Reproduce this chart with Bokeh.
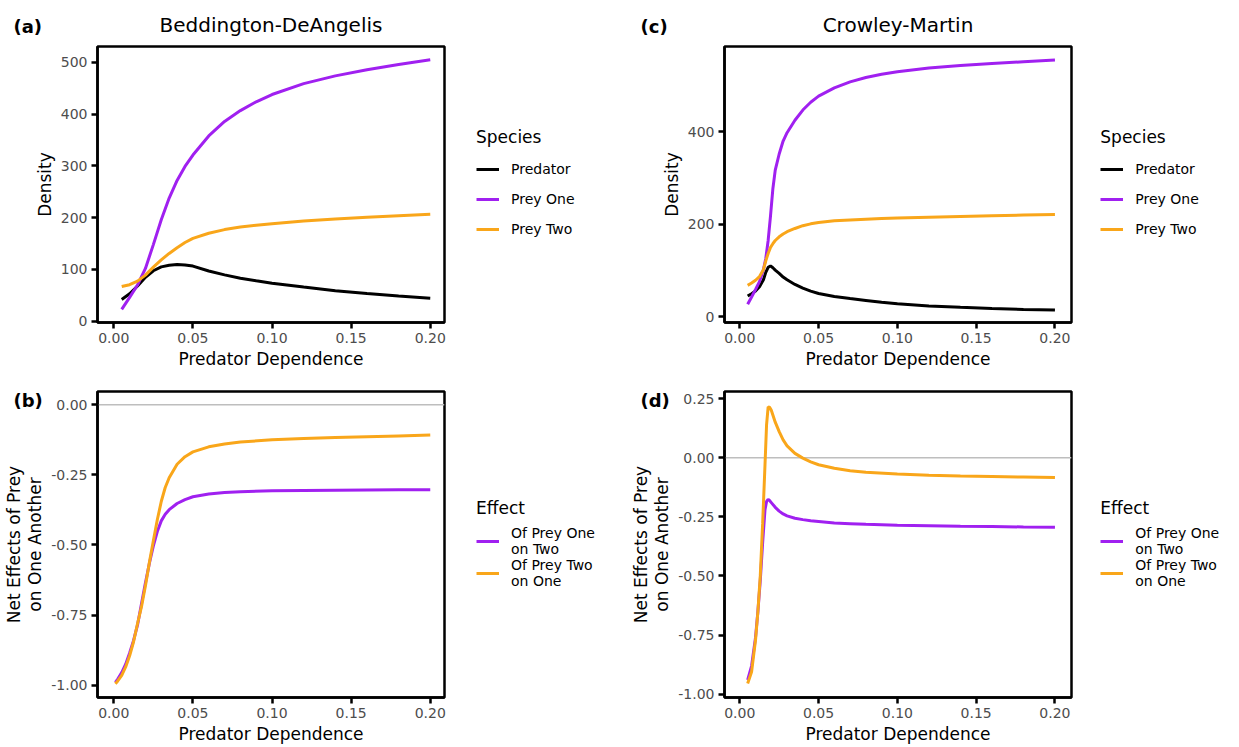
from bokeh.plotting import figure
from bokeh.models import Legend, LegendItem, Title, Span, FixedTicker, Range1d
from bokeh.layouts import column, row
from bokeh.embed import file_html
from bokeh.resources import INLINE

FONT = "DejaVu Sans"
PURPLE = "#A020F0"
ORANGE = "#F9A61A"
BLACK = "#000000"
TICK_GREY = "#4D4D4D"

# ---------------- data ----------------
# (a) Beddington-DeAngelis densities
bd_x = [0.005, 0.01, 0.015, 0.02, 0.025, 0.03, 0.035, 0.04, 0.045, 0.05,
        0.06, 0.07, 0.08, 0.09, 0.10, 0.12, 0.14, 0.16, 0.18, 0.20]
bd_predator = [42, 53, 68, 85, 97.5, 105, 108, 109.5, 108.8, 106.5,
               97, 89.5, 83, 78, 73.5, 66, 59, 53.5, 48.5, 44.5]
bd_prey_one = [23, 46, 70, 102, 148, 196, 238, 272, 299, 321,
               358, 386, 407, 424, 438, 459, 474, 486, 496, 505]
bd_prey_two = [67, 70.5, 77.5, 89, 104.5, 118.5, 131, 142, 152, 160,
               170, 177, 182, 185.5, 188.5, 193.5, 197.5, 201, 204, 206.5]

# (b) Beddington-DeAngelis net effects
bde_x = [0.001, 0.0025, 0.005, 0.0075, 0.01, 0.0125, 0.015, 0.0175, 0.02, 0.0225,
         0.025, 0.0275, 0.03, 0.0325, 0.035, 0.04, 0.045, 0.05, 0.06, 0.07,
         0.08, 0.10, 0.12, 0.14, 0.16, 0.18, 0.20]
bde_one_on_two = [-0.99, -0.978, -0.955, -0.925, -0.885, -0.84, -0.785, -0.71, -0.635, -0.565,
                  -0.503, -0.452, -0.414, -0.39, -0.374, -0.352, -0.338, -0.328, -0.318, -0.313,
                  -0.310, -0.307, -0.306, -0.305, -0.304, -0.303, -0.303]
bde_two_on_one = [-0.995, -0.985, -0.965, -0.935, -0.895, -0.845, -0.78, -0.72, -0.645, -0.562,
                  -0.485, -0.41, -0.345, -0.295, -0.26, -0.212, -0.185, -0.168, -0.150, -0.140,
                  -0.133, -0.125, -0.120, -0.117, -0.114, -0.111, -0.108]

# (c) Crowley-Martin densities
cm_x = [0.005, 0.0075, 0.01, 0.0125, 0.015, 0.0165, 0.018, 0.0195, 0.021, 0.0225,
        0.025, 0.0275, 0.03, 0.035, 0.04, 0.045, 0.05, 0.06, 0.07, 0.08,
        0.09, 0.10, 0.12, 0.14, 0.16, 0.18, 0.20]
cm_predator = [45, 50, 56, 65, 80, 96, 107, 110, 106, 101,
               94, 86, 80, 70, 62, 55.5, 50.5, 44, 39.5, 35.5,
               31.5, 28, 23.5, 20.5, 18, 16, 14.5]
cm_prey_one = [27, 43, 59, 76, 102, 126, 165, 218, 277, 317,
               352, 380, 398, 425, 447, 464, 477, 495, 508, 517.5,
               524.5, 530, 538, 543.5, 547.5, 551.5, 555]
cm_prey_two = [68, 73, 79, 87, 102, 121, 137, 150, 158, 165,
               173, 179, 184, 191, 197, 201, 204, 207.5, 209.5, 211,
               212.5, 213.5, 215.5, 217, 218.5, 220, 221]

# (d) Crowley-Martin net effects
cme_x = [0.005, 0.0075, 0.01, 0.0115, 0.013, 0.0145, 0.016, 0.017, 0.018, 0.019,
         0.02, 0.0225, 0.025, 0.0275, 0.03, 0.035, 0.04, 0.045, 0.05, 0.06,
         0.07, 0.08, 0.10, 0.12, 0.14, 0.16, 0.18, 0.20]
cme_one_on_two = [-0.94, -0.88, -0.76, -0.65, -0.52, -0.36, -0.22, -0.185, -0.176, -0.182,
                  -0.19, -0.21, -0.226, -0.238, -0.246, -0.256, -0.262, -0.267, -0.270, -0.276,
                  -0.279, -0.282, -0.286, -0.288, -0.290, -0.291, -0.293, -0.294]
cme_two_on_one = [-0.955, -0.905, -0.77, -0.65, -0.50, -0.28, -0.03, 0.14, 0.215, 0.212,
                  0.20, 0.15, 0.11, 0.075, 0.05, 0.018, -0.002, -0.018, -0.03, -0.045,
                  -0.055, -0.062, -0.069, -0.074, -0.078, -0.080, -0.082, -0.084]

# ticks
x_ticks = [0.0, 0.05, 0.1, 0.15, 0.2]
x_tick_labels = ["0.00", "0.05", "0.10", "0.15", "0.20"]
bd_y_ticks = [0, 100, 200, 300, 400, 500]
bd_y_tick_labels = ["0", "100", "200", "300", "400", "500"]
cm_y_ticks = [0, 200, 400]
cm_y_tick_labels = ["0", "200", "400"]
bde_y_ticks = [0.0, -0.25, -0.5, -0.75, -1.0]
bde_y_tick_labels = ["0.00", "-0.25", "-0.50", "-0.75", "-1.00"]
cme_y_ticks = [0.25, 0.0, -0.25, -0.5, -0.75, -1.0]
cme_y_tick_labels = ["0.25", "0.00", "-0.25", "-0.50", "-0.75", "-1.00"]

species_labels = ["Predator", "Prey One", "Prey Two"]
effect_labels = ["Of Prey One\non Two", "Of Prey Two\non One"]


def make_fig(xr, yr, fh, bl, br, bt, bb, xt, xtl, yt, ytl, ylabel):
    p = figure(frame_width=347, frame_height=fh,
               x_range=Range1d(*xr), y_range=Range1d(*yr),
               toolbar_location=None, output_backend="svg",
               min_border_left=bl, min_border_right=br,
               min_border_top=bt, min_border_bottom=bb,
               background_fill_color="white", border_fill_color="white",
               title=None)
    p.xgrid.visible = False
    p.ygrid.visible = False
    p.outline_line_color = "black"
    p.outline_line_width = 2.5
    p.outline_line_alpha = 1.0
    for ax in (p.xaxis[0], p.yaxis[0]):
        ax.axis_line_color = "black"
        ax.axis_line_width = 2.5
        ax.major_tick_line_color = "black"
        ax.major_tick_line_width = 2.5
        ax.major_tick_out = 6
        ax.major_tick_in = 0
        ax.minor_tick_line_color = None
        ax.major_label_text_font = FONT
        ax.major_label_text_font_size = "14px"
        ax.major_label_text_color = TICK_GREY
        ax.axis_label_text_font = FONT
        ax.axis_label_text_font_size = "17px"
        ax.axis_label_text_font_style = "normal"
        ax.axis_label_text_color = "black"
        ax.major_label_standoff = 4
        ax.axis_label_standoff = 3
    p.xaxis[0].ticker = FixedTicker(ticks=xt)
    p.xaxis[0].major_label_overrides = dict(zip(xt, xtl))
    p.xaxis[0].axis_label = "Predator Dependence"
    p.yaxis[0].ticker = FixedTicker(ticks=yt)
    p.yaxis[0].major_label_overrides = dict(zip(yt, ytl))
    p.yaxis[0].axis_label = ylabel
    p.yaxis[0].axis_label_text_line_height = 1.05
    return p


def add_main_title(p, text):
    p.add_layout(Title(text=text, align="center", text_font=FONT,
                       text_font_size="20px", text_font_style="normal",
                       text_color="black", standoff=20), "above")


def add_tag(p, text, standoff):
    p.add_layout(Title(text=text, align="left", offset=-84,
                       vertical_align="bottom", standoff=standoff,
                       text_font=FONT, text_font_size="18px",
                       text_font_style="bold", text_color="black"), "above")


def add_legend(p, title, items, loc, multiline):
    leg = Legend(items=items, location=loc, orientation="vertical",
                 title=title, title_text_font=FONT, title_text_font_size="17px",
                 title_text_font_style="normal", title_text_color="black",
                 title_standoff=(7 if multiline else 12),
                 label_text_font=FONT, label_text_font_size="14px",
                 label_text_color="black",
                 label_text_line_height=(1.12 if multiline else 1.2),
                 glyph_width=23, glyph_height=20, label_height=20,
                 label_standoff=12, spacing=(0 if multiline else 10),
                 padding=0, margin=0, border_line_color=None,
                 background_fill_alpha=0)
    p.add_layout(leg, "right")


# (a)
pa = make_fig((-0.0103, 0.2090), (-2.5, 530.8), 276, 97, 176, 44, 50,
              x_ticks, x_tick_labels, bd_y_ticks, bd_y_tick_labels, "Density")
add_main_title(pa, "Beddington-DeAngelis")
add_tag(pa, "(a)", -73)
ra1 = pa.line(bd_x, bd_predator, line_color=BLACK, line_width=3)
ra2 = pa.line(bd_x, bd_prey_one, line_color=PURPLE, line_width=3)
ra3 = pa.line(bd_x, bd_prey_two, line_color=ORANGE, line_width=3)
add_legend(pa, "Species", [LegendItem(label=species_labels[0], renderers=[ra1]),
                           LegendItem(label=species_labels[1], renderers=[ra2]),
                           LegendItem(label=species_labels[2], renderers=[ra3])],
           (32, 82.7), False)

# (c)
pc = make_fig((-0.0097, 0.2105), (-12.3, 584.4), 276, 104, 164, 44, 50,
              x_ticks, x_tick_labels, cm_y_ticks, cm_y_tick_labels, "Density")
add_main_title(pc, "Crowley-Martin")
add_tag(pc, "(c)", -72)
rc1 = pc.line(cm_x, cm_predator, line_color=BLACK, line_width=3)
rc2 = pc.line(cm_x, cm_prey_one, line_color=PURPLE, line_width=3)
rc3 = pc.line(cm_x, cm_prey_two, line_color=ORANGE, line_width=3)
add_legend(pc, "Species", [LegendItem(label=species_labels[0], renderers=[rc1]),
                           LegendItem(label=species_labels[1], renderers=[rc2]),
                           LegendItem(label=species_labels[2], renderers=[rc3])],
           (29.3, 82.7), False)

# (b)
pb = make_fig((-0.0103, 0.2090), (-1.0439, 0.0474), 306, 97, 176, 19, 50,
              x_ticks, x_tick_labels, bde_y_ticks, bde_y_tick_labels,
              "Net Effects of Prey\non One Another")
add_tag(pb, "(b)", -39)
pb.add_layout(Span(location=0, dimension="width", line_color="#BEBEBE",
                   line_width=1.5, level="underlay"))
rb1 = pb.line(bde_x, bde_one_on_two, line_color=PURPLE, line_width=3)
rb2 = pb.line(bde_x, bde_two_on_one, line_color=ORANGE, line_width=3)
add_legend(pb, "Effect", [LegendItem(label=effect_labels[0], renderers=[rb1]),
                          LegendItem(label=effect_labels[1], renderers=[rb2])],
           (32, 107.7), True)

# (d)
pd_ = make_fig((-0.0097, 0.2105), (-1.0139, 0.2796), 306, 104, 164, 19, 50,
               x_ticks, x_tick_labels, cme_y_ticks, cme_y_tick_labels,
               "Net Effects of Prey\non One Another")
add_tag(pd_, "(d)", -39)
pd_.add_layout(Span(location=0, dimension="width", line_color="#BEBEBE",
                    line_width=1.5, level="underlay"))
rd1 = pd_.line(cme_x, cme_one_on_two, line_color=PURPLE, line_width=3)
rd2 = pd_.line(cme_x, cme_two_on_one, line_color=ORANGE, line_width=3)
add_legend(pd_, "Effect", [LegendItem(label=effect_labels[0], renderers=[rd1]),
                           LegendItem(label=effect_labels[1], renderers=[rd2])],
           (29.3, 107.7), True)

layout = column(row(pa, pc), row(pb, pd_))
open("out.html", "w").write(file_html(layout, INLINE))
